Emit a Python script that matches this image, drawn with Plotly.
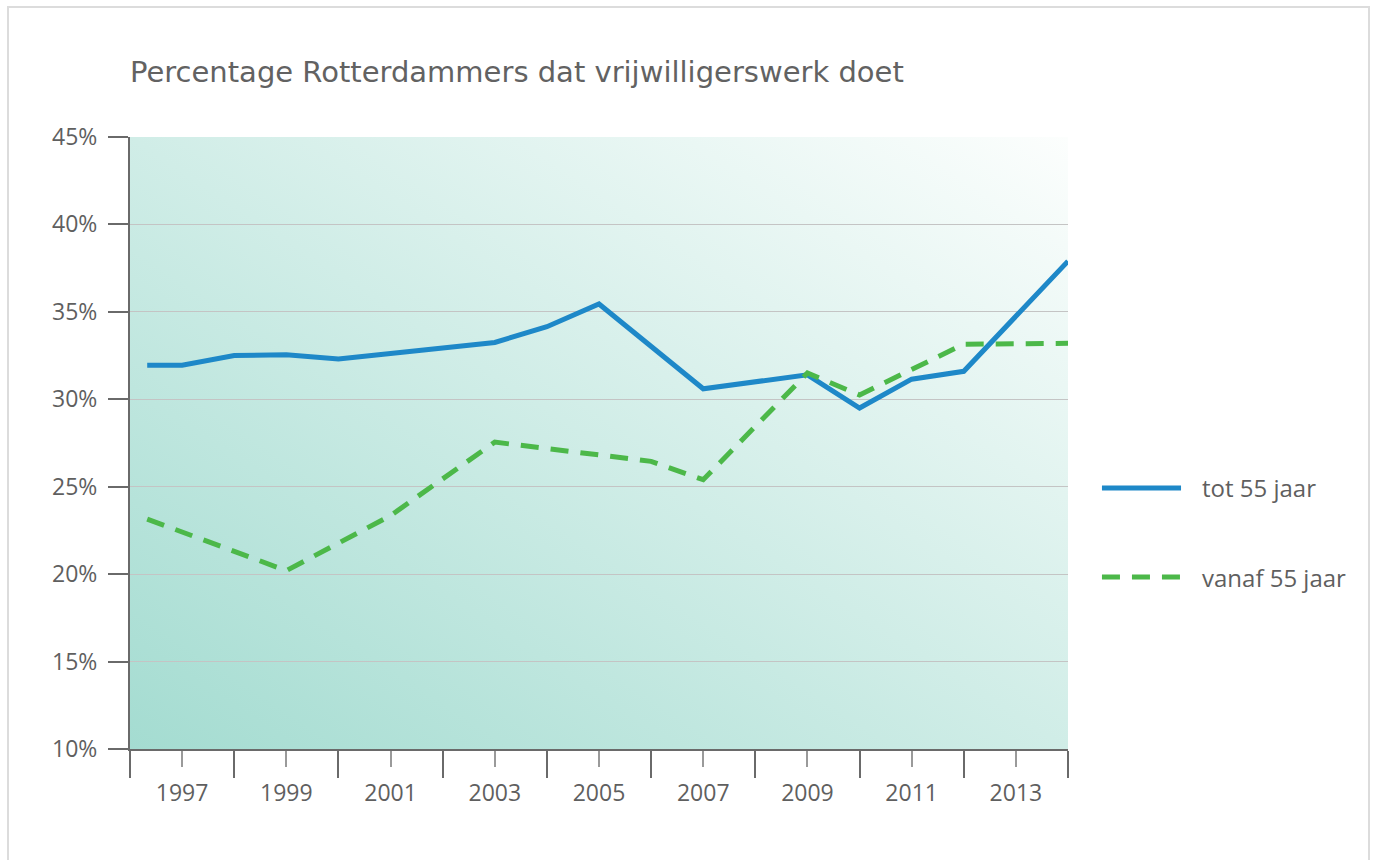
import base64
import plotly.graph_objects as go

# ---- data ----
title_text = "Percentage Rotterdammers dat vrijwilligerswerk doet"
series_names = ["tot 55 jaar", "vanaf 55 jaar"]

years_tot = [1996.33, 1997, 1998, 1999, 2000, 2003, 2004, 2005, 2007, 2009, 2010, 2011, 2012, 2014]
values_tot = [31.95, 31.95, 32.5, 32.55, 32.3, 33.25, 34.15, 35.45, 30.6, 31.4, 29.5, 31.15, 31.6, 37.9]

years_vanaf = [1996.33, 1999, 2001, 2003, 2006, 2007, 2009, 2010, 2012, 2014]
values_vanaf = [23.15, 20.2, 23.35, 27.55, 26.45, 25.4, 31.5, 30.25, 33.15, 33.2]

y_ticks = [10, 15, 20, 25, 30, 35, 40, 45]
y_tick_text = [f"{v}%" for v in y_ticks]
x_label_years = [1997, 1999, 2001, 2003, 2005, 2007, 2009, 2011, 2013]
x_boundary_years = [1996, 1998, 2000, 2002, 2004, 2006, 2008, 2010, 2012, 2014]

BLUE = "#1e88c8"
GREEN = "#4cb849"
TXT = "#5f5f5f"
FONT = "Open Sans"

W, H = 1375, 860

fig = go.Figure()
fig.add_trace(go.Scatter(x=years_tot, y=values_tot, mode="lines", name=series_names[0],
                         line=dict(color=BLUE, width=5), showlegend=False))
fig.add_trace(go.Scatter(x=years_vanaf, y=values_vanaf, mode="lines", name=series_names[1],
                         line=dict(color=GREEN, width=5, dash="18px,12px"), showlegend=False))

# gradient background via svg image
svg = ('<svg xmlns="http://www.w3.org/2000/svg" width="100" height="100" viewBox="0 0 100 100" '
       'preserveAspectRatio="none"><defs><linearGradient id="g" x1="0" y1="1" x2="1" y2="0">'
       '<stop offset="0" stop-color="#a4dcd1"/><stop offset="1" stop-color="#fcfefd"/>'
       '</linearGradient></defs><rect width="100" height="100" fill="url(#g)"/></svg>')
uri = "data:image/svg+xml;base64," + base64.b64encode(svg.encode()).decode()
fig.add_layout_image(dict(source=uri, xref="x", yref="y", x=1996, y=45, sizex=18, sizey=35,
                          sizing="stretch", xanchor="left", yanchor="top", layer="below", opacity=1))

# frame
fig.add_shape(type="rect", xref="paper", yref="paper", x0=-0.13006, x1=1.3209, y0=-0.2, y1=1.2124,
              line=dict(color="#dcdcdc", width=2), fillcolor="rgba(0,0,0,0)", layer="below")

# manual legend
leg_y = [0.4265, 0.2810]
dashes = ["solid", "18px,12px"]
colors = [BLUE, GREEN]
for name, yy, dsh, col in zip(series_names, leg_y, dashes, colors):
    fig.add_shape(type="line", xref="paper", yref="paper", x0=1.0362, x1=1.1205, y0=yy, y1=yy,
                  line=dict(color=col, width=5, dash=dsh))
    fig.add_annotation(text=name, xref="paper", yref="paper", x=1.1407, y=yy, xanchor="left",
                       yanchor="middle", showarrow=False, font=dict(family=FONT, size=24, color=TXT))

fig.update_layout(
    width=W, height=H,
    margin=dict(l=130, r=307, t=137, b=111),
    paper_bgcolor="white", plot_bgcolor="white",
    title=dict(text=title_text, x=130 / W, xanchor="left", y=1 - 72 / H,
               yanchor="middle", xref="container", yref="container",
               font=dict(family="DejaVu Sans", size=29, color="#626262")),
    showlegend=False,
    font=dict(family=FONT, color=TXT),
)
fig.update_xaxes(range=[1996, 2014], tickmode="array", tickvals=x_label_years,
                 ticktext=[str(y) for y in x_label_years], ticks="outside", ticklen=16,
                 tickcolor="#9a9a9a", tickwidth=2, ticklabelstandoff=6,
                 minor=dict(tickmode="array", tickvals=x_boundary_years, ticks="outside", ticklen=27,
                            tickcolor="#6a6a6a", tickwidth=2, showgrid=False),
                 showgrid=False, zeroline=False, showline=True, linecolor="#6a6a6a", linewidth=2,
                 tickfont=dict(family=FONT, size=23, color=TXT))
fig.update_yaxes(range=[10, 45], tickmode="array", tickvals=y_ticks, ticktext=y_tick_text,
                 ticks="outside", ticklen=20, tickcolor="#6a6a6a", tickwidth=2, ticklabelstandoff=6,
                 showgrid=True, gridcolor="#c4c4c4", gridwidth=1, zeroline=False,
                 showline=True, linecolor="#6a6a6a", linewidth=2,
                 tickfont=dict(family=FONT, size=23, color=TXT))

fig.write_html("out.html", config={"displayModeBar": False},
               post_script="document.body.style.margin='0';document.body.style.overflow='hidden';")
